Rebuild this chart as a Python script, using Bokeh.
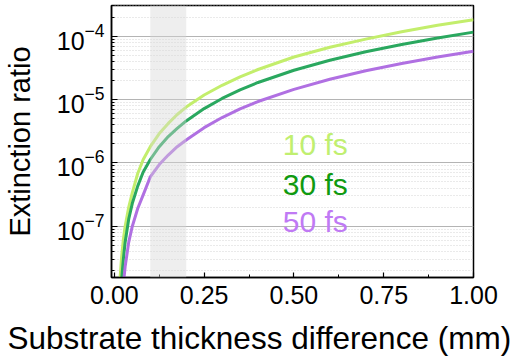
from bokeh.plotting import figure
from bokeh.models import Range1d, FixedTicker, LogTickFormatter, BoxAnnotation, Title, PrintfTickFormatter
from bokeh.core.properties import value
from bokeh.embed import file_html
from bokeh.resources import INLINE

# ---------------- data ----------------
thickness = [0.01, 0.015, 0.02, 0.025, 0.03, 0.04, 0.05, 0.065, 0.08, 0.1, 0.125, 0.15, 0.175, 0.2,
             0.25, 0.3, 0.35, 0.4, 0.5, 0.6, 0.7, 0.8, 0.9, 1.0]
ratio_10fs = [4e-9, 1.3e-8, 3.2e-8, 6.2e-8, 1.0e-7, 2.0e-7, 3.4e-7, 6.8e-7, 1.12e-6, 1.8e-6, 2.9e-6, 4.2e-6, 5.8e-6, 7.6e-6,
              1.18e-5, 1.68e-5, 2.28e-5, 2.98e-5, 4.7e-5, 6.7e-5, 9.0e-5, 1.18e-4, 1.49e-4, 1.82e-4]
ratio_30fs = [1.5e-9, 5e-9, 1.4e-8, 3.0e-8, 5.6e-8, 1.3e-7, 2.3e-7, 4.3e-7, 7.1e-7, 1.13e-6, 1.8e-6, 2.6e-6, 3.5e-6, 4.6e-6,
              7.2e-6, 1.04e-5, 1.42e-5, 1.86e-5, 2.9e-5, 4.18e-5, 5.7e-5, 7.4e-5, 9.4e-5, 1.16e-4]
ratio_50fs = [3e-10, 1.5e-9, 5e-9, 1.2e-8, 2.3e-8, 5.6e-8, 1.0e-7, 1.9e-7, 3.1e-7, 6.0e-7, 9.4e-7, 1.33e-6, 1.8e-6, 2.3e-6,
              3.6e-6, 5.2e-6, 7.1e-6, 9.3e-6, 1.45e-5, 2.09e-5, 2.85e-5, 3.72e-5, 4.7e-5, 5.8e-5]

series_labels = ["10 fs", "30 fs", "50 fs"]
line_colors = ["#c3ee6c", "#2aa85f", "#b070e2"]
text_colors = ["#c0ef70", "#109a10", "#c07af4"]
label_x = [0.469, 0.469, 0.469]
label_y = [1.95e-6, 4.55e-7, 1.18e-7]

band_start, band_end = 0.1, 0.2

x_major = [0.0, 0.25, 0.5, 0.75, 1.0]
x_minor = [0.125, 0.375, 0.625, 0.875]
y_major = [1e-7, 1e-6, 1e-5, 1e-4]
y_minor = [k * 10.0 ** e for e in range(-8, -3) for k in range(2, 10)]

FONT = "Liberation Sans"

p = figure(width=516, height=350, y_axis_type="log",
           x_range=Range1d(-0.008, 1.0), y_range=Range1d(10 ** -7.81, 10 ** -3.515),
           output_backend="svg", toolbar_location=None,
           frame_width=362, frame_height=272,
           min_border_left=108, min_border_right=46, min_border_top=5, min_border_bottom=0)

p.background_fill_color = "white"
p.border_fill_color = "white"
p.outline_line_color = "black"
p.outline_line_width = 1.5
p.outline_line_alpha = 1.0

# lines
for ys, c in zip([ratio_10fs, ratio_30fs, ratio_50fs], line_colors):
    p.line(thickness, ys, line_color=c, line_width=3)

# shaded band
p.add_layout(BoxAnnotation(left=band_start, right=band_end, fill_color="#d6d6d6", fill_alpha=0.42,
                           line_color=None))

# series labels
p.text(x=label_x, y=label_y, text=series_labels, text_color=text_colors,
       text_font=value(FONT), text_font_size="30px", text_align="left", text_baseline="alphabetic")

# axes
p.xaxis.ticker = FixedTicker(ticks=x_major, minor_ticks=x_minor)
p.xaxis.formatter = PrintfTickFormatter(format="%.2f")
p.yaxis.ticker = FixedTicker(ticks=y_major, minor_ticks=y_minor)
p.yaxis.formatter = LogTickFormatter()

for ax in (p.xaxis, p.yaxis):
    ax.axis_line_color = "black"
    ax.axis_line_width = 1.5
    ax.major_tick_line_color = "black"
    ax.minor_tick_line_color = "black"
    ax.major_tick_line_width = 1.2
    ax.minor_tick_line_width = 1
    ax.major_tick_out = 0
    ax.minor_tick_out = 0
    ax.major_label_text_font = FONT
    ax.major_label_text_font_size = "25px"
    ax.major_label_text_color = "black"

p.xaxis.major_tick_in = 5
p.xaxis.minor_tick_in = 3
p.yaxis.major_tick_in = 6
p.yaxis.minor_tick_in = 3
p.xaxis.major_label_standoff = 8
p.yaxis.major_label_standoff = 7

p.yaxis.axis_label = "Extinction ratio"
p.yaxis.axis_label_text_font = FONT
p.yaxis.axis_label_text_font_size = "29px"
p.yaxis.axis_label_text_font_style = "normal"
p.yaxis.axis_label_text_color = "black"
p.yaxis.axis_label_standoff = 18

# grid
p.xgrid.grid_line_color = None
p.ygrid.grid_line_color = "#b4b4b4"
p.ygrid.grid_line_width = 1.2
p.ygrid.minor_grid_line_color = "#d4d4d4"
p.ygrid.minor_grid_line_dash = "1 2"
p.ygrid.minor_grid_line_width = 1

# x axis title (centred on the whole image in the reference, so placed as a left-aligned title)
p.add_layout(Title(text="Substrate thickness difference (mm)", align="left", offset=-104,
                   text_font=FONT, text_font_size="31.5px", text_font_style="normal",
                   text_color="black", standoff=23), "below")

open("out.html", "w").write(file_html(p, INLINE))
